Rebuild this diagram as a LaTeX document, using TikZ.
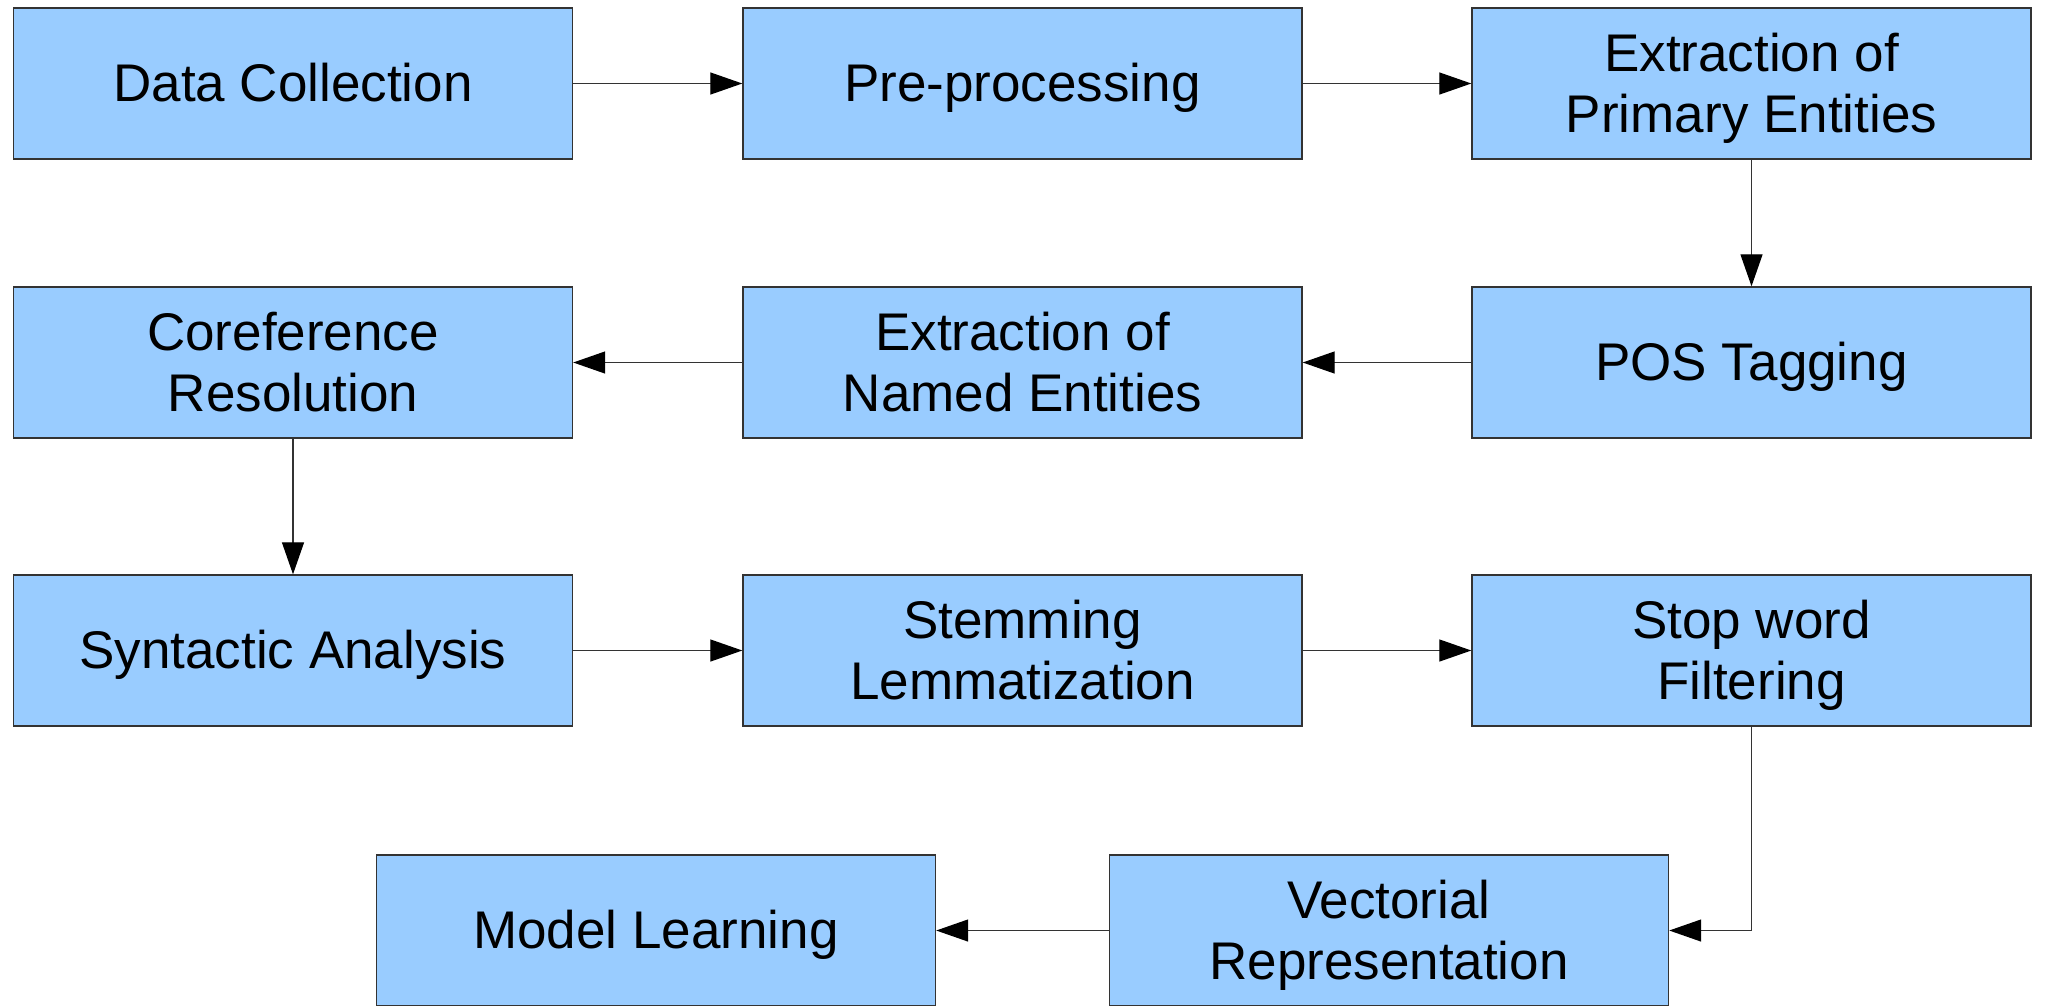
\documentclass[tikz,border=0pt]{standalone}
\usepackage{fontspec}
\setmainfont{Liberation Sans}
\usetikzlibrary{arrows.meta}
\definecolor{boxblue}{HTML}{99CCFF}
\definecolor{edge}{HTML}{333333}
% strut spanning the font's ascent and descent, so lines centre like in the office suite
\newcommand\lnstrut{\rule[-0.212em]{0pt}{1.117em}}
\tikzset{
  stage/.style={draw=edge, line width=1.4pt, fill=boxblue, minimum width=559pt,
    minimum height=151pt, inner sep=0pt, align=center,
    font=\fontsize{53}{61}\selectfont},
  flow/.style={draw=edge, line width=1.3pt,
    -{Triangle[length=32pt,width=22pt,color=black]}}
}
\begin{document}
\begin{tikzpicture}[x=1pt,y=-1pt]
\useasboundingbox (0,0) rectangle (2045,1005);
% row 1
\node[stage] (dc)  at (293,83.5)    {\lnstrut Data Collection};
\node[stage] (pp)  at (1022.5,83.5) {\lnstrut Pre-processing};
\node[stage] (epe) at (1751.5,83.5) {\lnstrut Extraction of\\\lnstrut Primary Entities};
% row 2
\node[stage] (cr)  at (293,362.5)    {\lnstrut Coreference\\\lnstrut Resolution};
\node[stage] (ene) at (1022.5,362.5) {\lnstrut Extraction of\\\lnstrut Named Entities};
\node[stage] (pos) at (1751.5,362.5) {\lnstrut POS Tagging};
% row 3
\node[stage] (sa)  at (293,650.5)    {\lnstrut Syntactic Analysis};
\node[stage] (sl)  at (1022.5,650.5) {\lnstrut Stemming\\\lnstrut Lemmatization};
\node[stage] (sw)  at (1751.5,650.5) {\lnstrut Stop word\\\lnstrut Filtering};
% row 4
\node[stage] (ml)  at (656,930.5)  {\lnstrut Model Learning};
\node[stage] (vr)  at (1389,930.5) {\lnstrut Vectorial\\\lnstrut Representation};
% connectors
\draw[flow] (dc) -- (pp);
\draw[flow] (pp) -- (epe);
\draw[flow] (epe) -- (pos);
\draw[flow] (pos) -- (ene);
\draw[flow] (ene) -- (cr);
\draw[flow] (cr) -- (sa);
\draw[flow] (sa) -- (sl);
\draw[flow] (sl) -- (sw);
\draw[flow] (sw.south) |- (vr.east);
\draw[flow] (vr) -- (ml);
\end{tikzpicture}
\end{document}
